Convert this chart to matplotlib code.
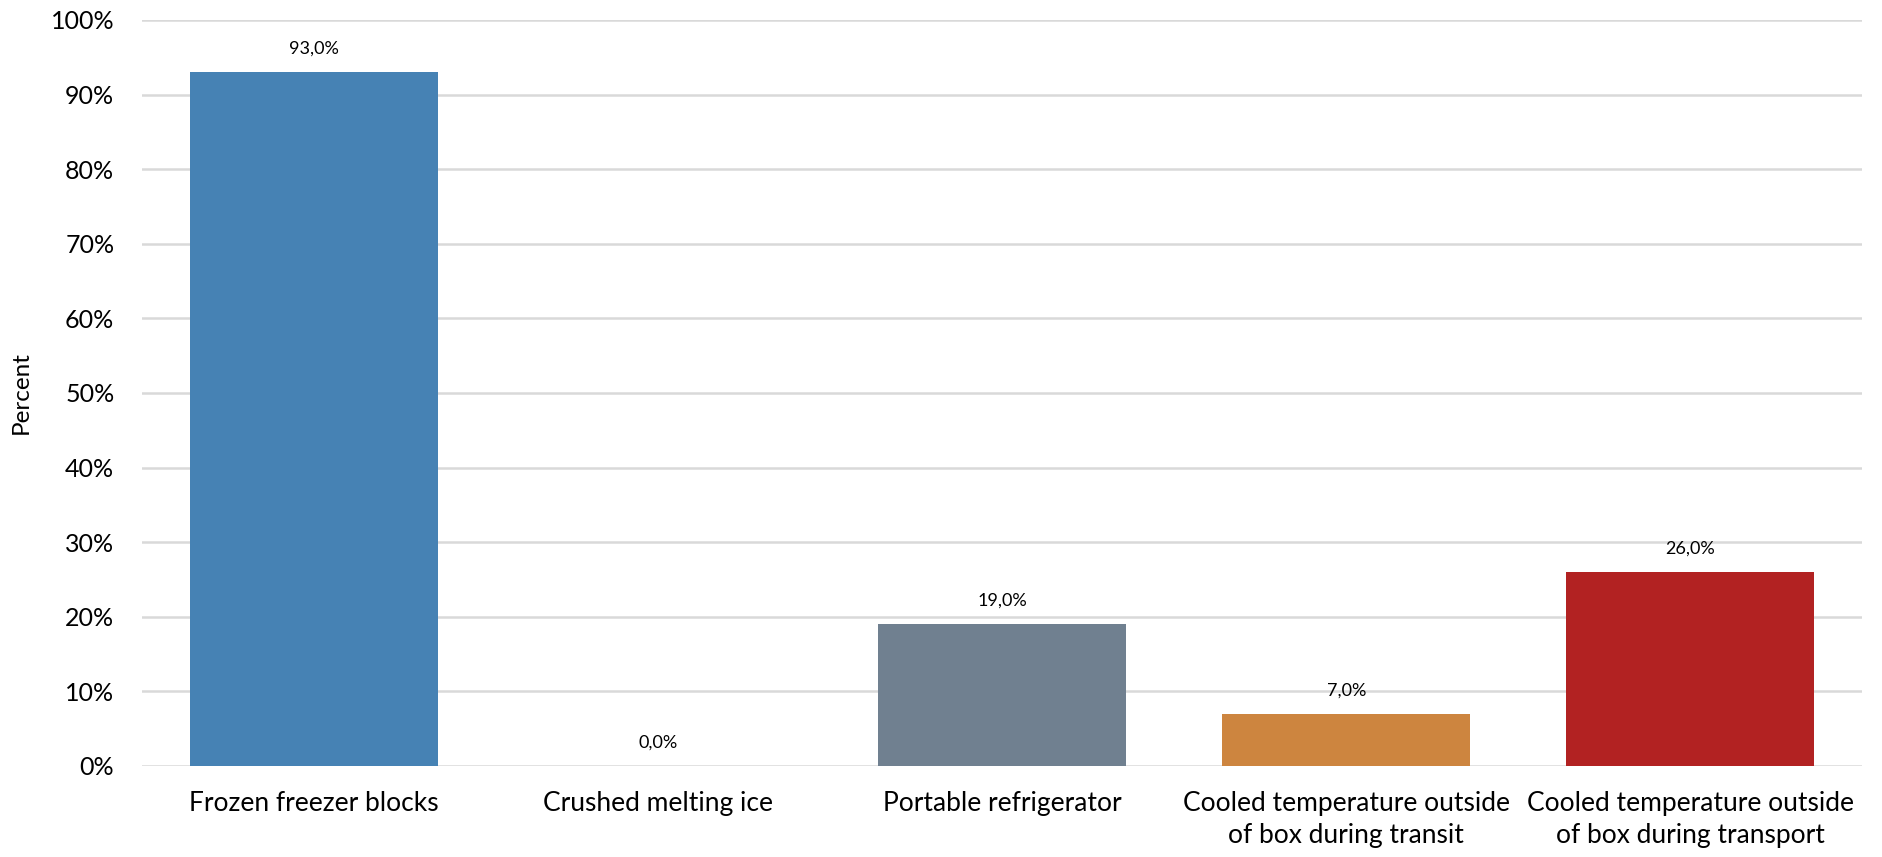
import matplotlib.pyplot as plt
import numpy as np

categories = ['Frozen freezer blocks', 'Crushed melting ice', 'Portable refrigerator',
              'Cooled temperature outside\nof box during transit',
              'Cooled temperature outside\nof box during transport']
values = [93.0, 0.0, 19.0, 7.0, 26.0]
colors = ['steelblue', 'steelblue', 'slategray', 'peru', 'firebrick']
yticks = [0, 10, 20, 30, 40, 50, 60, 70, 80, 90, 100]

plt.rcParams['font.family'] = ['Lato', 'DejaVu Sans']

fig = plt.figure(figsize=(18.82, 8.57), dpi=100)
ax = fig.add_axes([0.0755, 0.1062, 0.914, 0.8705])

x = np.arange(len(categories))
ax.bar(x, values, width=0.72, color=colors, zorder=3)

for xi, v in zip(x, values):
    ax.annotate(f'{v:.1f}%'.replace('.', ','), (xi, v), xytext=(0, 17),
                textcoords='offset points', ha='center', va='center', fontsize=13)

ax.set_xlim(-0.5, len(categories) - 0.5)
ax.set_ylim(0, 100)
ax.set_yticks(yticks)
ax.set_yticklabels([f'{t}%' for t in yticks], fontsize=18)
ax.set_xticks(x)
ax.set_xticklabels(categories, fontsize=19, linespacing=1.35)
ax.tick_params(axis='both', length=0)
ax.tick_params(axis='y', pad=20)
ax.tick_params(axis='x', pad=18)
ax.grid(axis='y', color='#d9d9d9', linewidth=1.8, zorder=0)
for s in ax.spines.values():
    s.set_visible(False)
ax.set_ylabel('Percent', fontsize=17.5)
ax.yaxis.set_label_coords(-0.064, 0.5)

fig.savefig('out.png', dpi=100, facecolor='white')
